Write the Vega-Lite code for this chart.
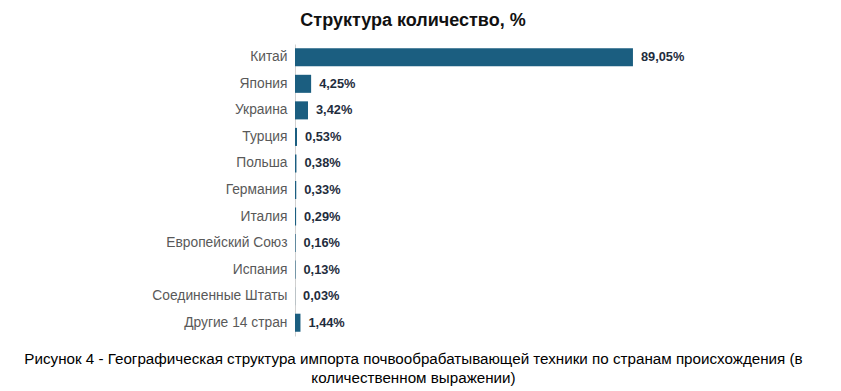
{
  "$schema": "https://vega.github.io/schema/vega-lite/v6.json",
  "autosize": {"type": "none"},
  "width": 400,
  "height": 292,
  "padding": {"left": 295, "top": 44, "right": 146, "bottom": 55},
  "background": "white",
  "view": {"stroke": null},
  "title": {
    "text": "Структура количество, %",
    "font": "Liberation Sans",
    "fontSize": 18,
    "fontWeight": "bold",
    "color": "#111111",
    "anchor": "middle",
    "dx": -82,
    "offset": 14
  },
  "data": {
    "values": [
      {"country": "Китай", "value": 89.05, "label": "89,05%"},
      {"country": "Япония", "value": 4.25, "label": "4,25%"},
      {"country": "Украина", "value": 3.42, "label": "3,42%"},
      {"country": "Турция", "value": 0.53, "label": "0,53%"},
      {"country": "Польша", "value": 0.38, "label": "0,38%"},
      {"country": "Германия", "value": 0.33, "label": "0,33%"},
      {"country": "Италия", "value": 0.29, "label": "0,29%"},
      {"country": "Европейский Союз", "value": 0.16, "label": "0,16%"},
      {"country": "Испания", "value": 0.13, "label": "0,13%"},
      {"country": "Соединенные Штаты", "value": 0.03, "label": "0,03%"},
      {"country": "Другие 14 стран", "value": 1.44, "label": "1,44%"}
    ]
  },
  "encoding": {
    "y": {
      "field": "country",
      "type": "nominal",
      "sort": null,
      "scale": {"paddingInner": 0.32, "paddingOuter": 0.16},
      "axis": {
        "title": null,
        "ticks": false,
        "domain": true,
        "domainColor": "#d0d0d0",
        "labelFont": "Liberation Sans",
        "labelFontSize": 13.8,
        "labelColor": "#595959",
        "labelPadding": 8
      }
    },
    "x": {
      "field": "value",
      "type": "quantitative",
      "scale": {"domain": [0, 105.4], "nice": false, "zero": true},
      "axis": {
        "grid": false,
        "labels": false,
        "ticks": false,
        "domain": false,
        "title": ["Рисунок 4 - Географическая структура импорта почвообрабатывающей техники по странам происхождения (в", "количественном выражении)"],
        "titleFont": "Liberation Sans",
        "titleFontSize": 15.2,
        "titleFontWeight": "normal",
        "titleColor": "#000000",
        "titleX": 118,
        "titleY": 27,
        "titleAlign": "center",
        "titleBaseline": "alphabetic",
        "titleLineHeight": 19
      }
    }
  },
  "layer": [
    {"mark": {"type": "bar", "color": "#1b5e80"}},
    {
      "mark": {"type": "text", "align": "left", "baseline": "middle", "dx": 8, "font": "Liberation Sans", "fontSize": 12.8, "fontWeight": "bold", "color": "#1f2d3d"},
      "encoding": {"text": {"field": "label"}}
    }
  ]
}
